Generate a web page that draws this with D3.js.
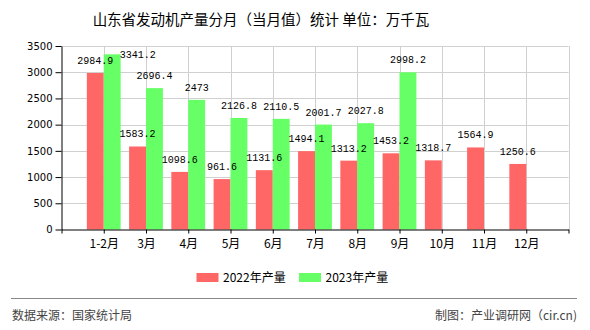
<!DOCTYPE html>
<html>
<head>
<meta charset="utf-8">
<script src="https://cdn.jsdelivr.net/npm/d3@7/dist/d3.min.js"></script>
<style>
  html, body { margin: 0; padding: 0; background: #fff; }
  svg { display: block; }
</style>
</head>
<body>
<script>
const categories = ["1-2月","3月","4月","5月","6月","7月","8月","9月","10月","11月","12月"];
const values2022 = [2984.9, 1583.2, 1098.6, 961.6, 1131.6, 1494.1, 1313.2, 1453.2, 1318.7, 1564.9, 1250.6];
const values2023 = [3341.2, 2696.4, 2473, 2126.8, 2110.5, 2001.7, 2027.8, 2998.2, null, null, null];
const seriesNames = ["2022年产量", "2023年产量"];
const seriesColors = ["#ff6666", "#66ff66"];
const yTicks = [0, 500, 1000, 1500, 2000, 2500, 3000, 3500];
const title = "山东省发动机产量分月（当月值）统计 单位：万千瓦";
const sourceText = "数据来源：国家统计局";
const creditText = "制图：产业调研网（cir.cn)";

const W = 590, H = 330;
const svg = d3.select("body").append("svg").attr("width", W).attr("height", H);

const plot = { left: 61.5, right: 568.5, top: 46, bottom: 229.5 };
const x = d3.scaleLinear().domain([0, categories.length + 1]).range([plot.left, plot.right]);
const y = d3.scaleLinear().domain([0, 3500]).range([plot.bottom, plot.top]);
const step = x(1) - x(0);
const bw = step * 0.4;

// title
svg.append("text").attr("x", 261).attr("y", 25).attr("text-anchor", "middle")
  .attr("font-family", "'Noto Sans CJK SC', sans-serif").attr("font-size", "14.5px")
  .attr("fill", "#000").text(title);

// gridlines
const grid = svg.append("g").attr("stroke", "#d0d0d0").attr("stroke-width", 1);
yTicks.filter(t => t > 0).forEach(t => {
  grid.append("line").attr("x1", plot.left).attr("x2", plot.right)
    .attr("y1", Math.round(y(t)) + 0.5).attr("y2", Math.round(y(t)) + 0.5);
});
d3.range(1, categories.length + 2).forEach(i => {
  grid.append("line").attr("x1", Math.round(x(i)) + 0.5).attr("x2", Math.round(x(i)) + 0.5)
    .attr("y1", plot.top).attr("y2", plot.bottom);
});

// bars
const seriesData = [values2022, values2023];
seriesData.forEach((vals, s) => {
  svg.append("g").selectAll("rect").data(vals.map((v, i) => ({ v, i })).filter(d => d.v != null))
    .join("rect")
    .attr("x", d => x(d.i + 1) - (s === 0 ? bw : 0))
    .attr("width", bw)
    .attr("y", d => y(d.v))
    .attr("height", d => y(0) - y(d.v))
    .attr("fill", seriesColors[s]);
});

// axes
const xAxis = d3.axisBottom(x)
  .tickValues(d3.range(0, categories.length + 2))
  .tickFormat(i => (i >= 1 && i <= categories.length) ? categories[i - 1] : "")
  .tickSize(4).tickSizeOuter(0).tickPadding(6);
const gx = svg.append("g").attr("transform", `translate(0,${plot.bottom})`).call(xAxis);
gx.selectAll("text").attr("font-family", "'Noto Sans CJK SC', sans-serif").attr("font-size", "12px").attr("fill", "#000");
gx.selectAll("line,path").attr("stroke", "#000");

const yAxis = d3.axisLeft(y).tickValues(yTicks).tickFormat(d3.format("d")).tickSize(6).tickSizeOuter(0).tickPadding(3);
const gy = svg.append("g").attr("transform", `translate(${plot.left},0)`).call(yAxis);
gy.selectAll("text").attr("font-family", "'DejaVu Sans', sans-serif").attr("font-size", "10px").attr("fill", "#000");
gy.selectAll("line,path").attr("stroke", "#000");

// value labels
const lab = svg.append("g").attr("font-family", "'Liberation Mono', monospace").attr("font-size", "10px")
  .attr("font-weight", "normal").attr("fill", "#000");
seriesData.forEach((vals, s) => {
  vals.forEach((v, i) => {
    if (v == null) return;
    const cx = x(i + 1) + (s === 0 ? -bw / 2 : bw / 2);
    const top = y(v);
    let tx = cx, ty = top - 9, anchor = "middle";
    if (ty - 8 < plot.top) { // no room above: place at the right of the bar
      tx = x(i + 1) + (s === 0 ? 0 : bw) - 1; ty = top + 3.5; anchor = "start";
    }
    lab.append("text").attr("x", tx).attr("y", ty).attr("text-anchor", anchor).text(String(v));
  });
});

// legend
const legend = svg.append("g");
const legendX = [196.5, 299];
seriesNames.forEach((n, s) => {
  legend.append("rect").attr("x", legendX[s]).attr("y", 273).attr("width", 22).attr("height", 9).attr("fill", seriesColors[s]);
  legend.append("text").attr("x", legendX[s] + 26.5).attr("y", 282).attr("font-family", "'Noto Sans CJK SC', sans-serif")
    .attr("font-size", "12px").attr("fill", "#000").text(n);
});

// footer
svg.append("line").attr("x1", 11).attr("x2", 577).attr("y1", 298.5).attr("y2", 298.5).attr("stroke", "#888").attr("stroke-width", 1);
svg.append("text").attr("x", 12).attr("y", 320).attr("font-family", "'Noto Sans CJK SC', sans-serif").attr("font-size", "12px")
  .attr("fill", "#444").text(sourceText);
svg.append("text").attr("x", 577).attr("y", 320).attr("text-anchor", "end").attr("font-family", "'Noto Sans CJK SC', sans-serif").attr("font-size", "12px")
  .attr("fill", "#444").text(creditText);
</script>
</body>
</html>
